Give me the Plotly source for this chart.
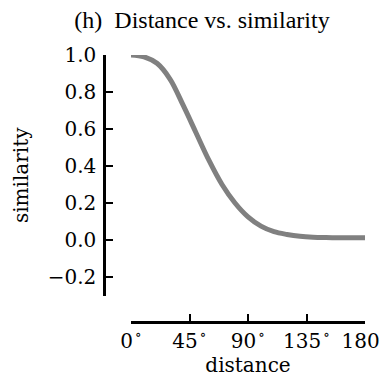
import plotly.graph_objects as go

distance_deg = [0, 10, 20, 30, 40, 50, 60, 70, 80, 90, 100, 110, 120, 130, 140, 150, 160, 170, 180]
similarity = [1.0, 0.99, 0.955, 0.87, 0.73, 0.58, 0.43, 0.30, 0.20, 0.125, 0.075, 0.045,
              0.03, 0.02, 0.015, 0.013, 0.012, 0.012, 0.012]

x_tick_vals = [0, 45, 90, 135, 180]
x_tick_text = ["0\u200a<sup>∘</sup>", "45\u200a<sup>∘</sup>", "90\u200a<sup>∘</sup>",
               "135\u200a<sup>∘</sup>", "180\u200a<sup>∘</sup>"]
y_tick_vals = [-0.2, 0.0, 0.2, 0.4, 0.6, 0.8, 1.0]
y_tick_text = ["−0.2", "0.0", "0.2", "0.4", "0.6", "0.8", "1.0"]

# page body has an 8px margin, so the figure is placed at (8, 8)
W, H = 380, 374
ml, mr, mt = 96, 23, 47
mb = H - 314
plot_w = W - ml - mr
plot_h = H - mt - mb
x_dom0 = (123 - ml) / plot_w
y_dom0 = ((H - mb) - 287.5) / plot_h

fig = go.Figure()
fig.add_trace(go.Scatter(
    x=distance_deg, y=similarity, mode="lines",
    line=dict(color="#808080", width=5, shape="spline", smoothing=1.0),
    showlegend=False, hoverinfo="skip",
))

font_main = "DejaVu Serif"
fig.update_layout(
    width=W, height=H,
    margin=dict(l=ml, r=mr, t=mt, b=mb, autoexpand=False),
    paper_bgcolor="white", plot_bgcolor="white",
    font=dict(family=font_main, size=20, color="black"),
    title=dict(text="(h)  Distance vs. similarity", x=194 / W, xanchor="center",
               y=1 - 12 / H, yanchor="middle",
               font=dict(family="Liberation Serif", size=24, color="black")),
    xaxis=dict(
        domain=[x_dom0, 1], range=[0, 180], anchor="free", position=0,
        automargin=False, ticklabeloverflow="allow",
        showgrid=False, zeroline=False,
        showline=True, linecolor="black", linewidth=2.5,
        ticks="inside", ticklen=7, tickwidth=2, tickcolor="black",
        tickmode="array", tickvals=x_tick_vals, ticktext=x_tick_text,
        tickfont=dict(family=font_main, size=20),
        title=dict(text="distance", font=dict(family=font_main, size=20), standoff=6),
    ),
    yaxis=dict(
        domain=[y_dom0, 1], range=[-0.3, 1.0], anchor="free", position=0,
        automargin=False, ticklabeloverflow="allow", ticklabelstandoff=3,
        showgrid=False, zeroline=False,
        showline=True, linecolor="black", linewidth=2.5,
        ticks="inside", ticklen=7, tickwidth=2, tickcolor="black",
        tickmode="array", tickvals=y_tick_vals, ticktext=y_tick_text,
        tickfont=dict(family=font_main, size=20),
        title=dict(text="similarity", font=dict(family=font_main, size=20), standoff=12),
    ),
)

fig.write_html("out.html")
